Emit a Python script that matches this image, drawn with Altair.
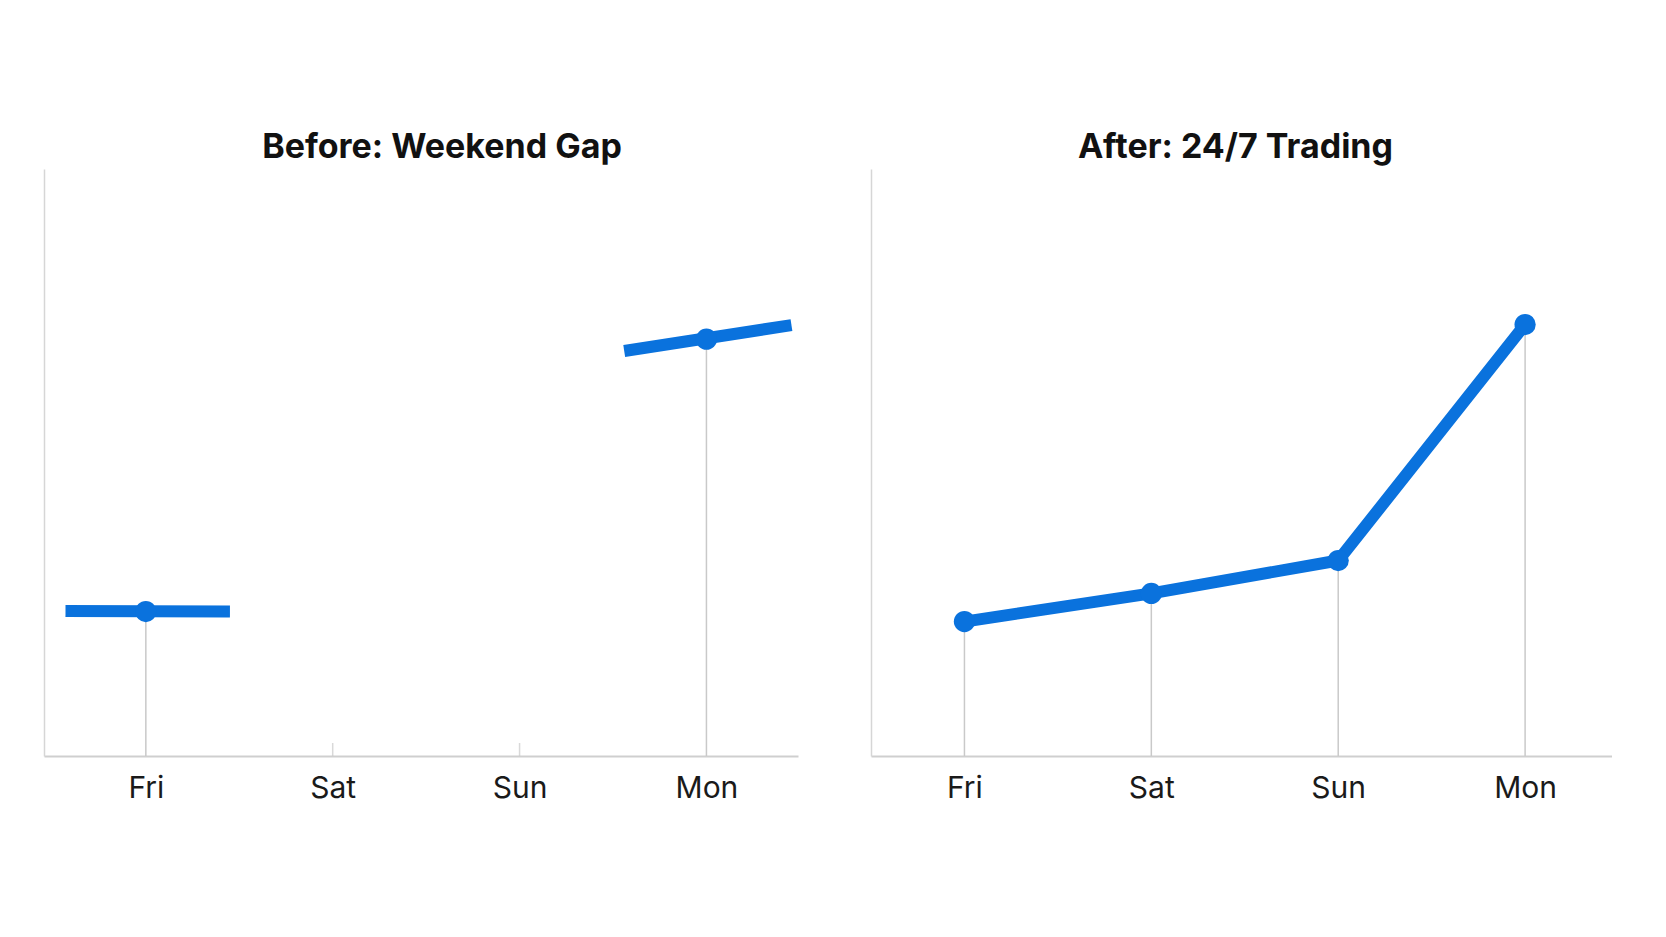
import json
import altair as alt
import pandas as pd

# ---- data ----
days = ["Fri", "Sat", "Sun", "Mon"]
day_idx = [0, 1, 2, 3]

# Before: only Friday close and Monday open exist
before_pt_x = [0, 3]
before_pt_y = [24.6, 71.0]
before_seg_id = ["fri", "fri", "mon", "mon"]
before_seg_x = [-0.43, 0.45, 2.56, 3.455]
before_seg_y = [24.7, 24.6, 69.0, 73.4]
before_stub_x = [1, 2]

# After: continuous 24/7 trading
after_y = [22.9, 27.7, 33.3, 73.5]

BLUE = "#0a72dd"
GRAY = "#c9c9c9"
W_LEFT, W_RIGHT, H = 754, 741, 587

label_expr = f"{json.dumps(days)}[datum.value]"


def xenc(domain):
    return alt.X(
        "x:Q",
        scale=alt.Scale(domain=domain, nice=False, zero=False),
        axis=alt.Axis(
            values=day_idx, labelExpr=label_expr, title=None, grid=False,
            ticks=False, tickSize=0, domain=True, domainColor="#cfcfcf",
            domainWidth=2, labelFontSize=30, labelColor="#1a1a1a",
            labelFont="Inter", labelPadding=17, labelFlush=False,
        ),
    )


yenc = alt.Y(
    "y:Q",
    scale=alt.Scale(domain=[0, 100], nice=False),
    axis=alt.Axis(title=None, labels=False, ticks=False, grid=False,
                  domain=True, domainColor="#d6d6d6", domainWidth=1.5),
)

# ---------- left panel ----------
left_dom = [-0.545, 3.49]
bp = pd.DataFrame({"x": before_pt_x, "y": before_pt_y})
bs = pd.DataFrame({"x": before_seg_x, "y": before_seg_y, "seg": before_seg_id})
stubs = pd.DataFrame({"x": before_stub_x, "y": [0] * len(before_stub_x)})

l_drop = alt.Chart(bp).mark_rule(color=GRAY, strokeWidth=1.5).encode(
    x=xenc(left_dom), y=yenc, y2=alt.datum(0))
l_stub = alt.Chart(stubs).mark_tick(
    orient="vertical", color=GRAY, thickness=1.5, size=13, yOffset=-6.5
).encode(x=xenc(left_dom), y=yenc)
l_line = alt.Chart(bs).mark_line(color=BLUE, strokeWidth=12, strokeCap="butt").encode(
    x=xenc(left_dom), y=yenc, detail="seg:N", order="x:Q")
l_pts = alt.Chart(bp).mark_point(filled=True, color=BLUE, size=450, opacity=1).encode(
    x=xenc(left_dom), y=yenc)

left = alt.layer(l_drop, l_stub, l_line, l_pts).properties(
    width=W_LEFT, height=H,
    title=alt.TitleParams("Before: Weekend Gap", dx=21),
)

# ---------- right panel ----------
right_dom = [-0.5, 3.465]
ap = pd.DataFrame({"x": day_idx, "y": after_y})

r_drop = alt.Chart(ap).mark_rule(color=GRAY, strokeWidth=1.5).encode(
    x=xenc(right_dom), y=yenc, y2=alt.datum(0))
r_line = alt.Chart(ap).mark_line(color=BLUE, strokeWidth=12, strokeJoin="round",
                                 strokeCap="round").encode(
    x=xenc(right_dom), y=yenc, order="x:Q")
r_pts = alt.Chart(ap).mark_point(filled=True, color=BLUE, size=450, opacity=1).encode(
    x=xenc(right_dom), y=yenc)

right = alt.layer(r_drop, r_line, r_pts).properties(
    width=W_RIGHT, height=H,
    title=alt.TitleParams("After: 24/7 Trading", dx=-6),
)

chart = (
    alt.hconcat(left, right, spacing=55)
    .properties(padding={"left": 41, "top": 131, "right": 0, "bottom": 0},
                background="white")
    .configure_view(stroke=None)
    .configure_title(font="Inter", fontSize=34, fontWeight="bold", color="#111111",
                     anchor="middle", offset=4)
)

chart.save("out.html", embed_options={"renderer": "svg", "actions": False})
